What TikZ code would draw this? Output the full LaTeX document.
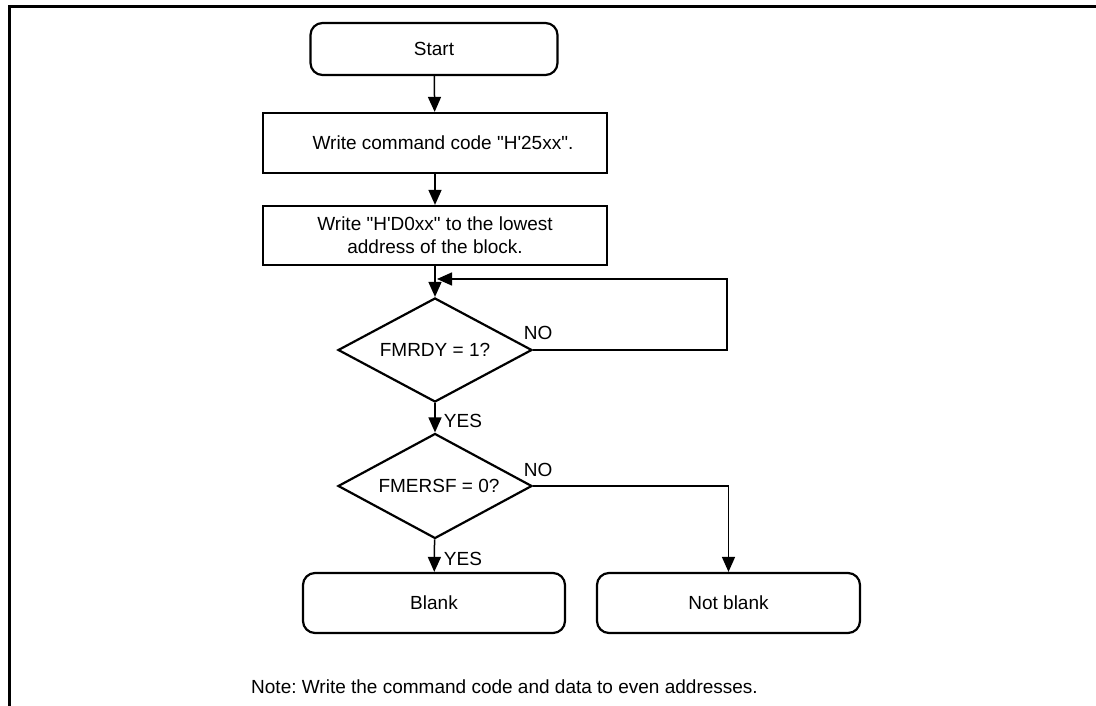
\documentclass[tikz,border=0pt]{standalone}
\usepackage{fontspec}
\setmainfont{Liberation Sans}[Ligatures=TeXOff]
\usetikzlibrary{shapes.geometric,arrows.meta,positioning}
\newcommand{\flowfont}{\fontsize{19}{23}\selectfont\frenchspacing}

\begin{document}
\begin{tikzpicture}[x=1pt,y=-1pt,
    box/.style={rectangle,draw,line width=2.2pt,minimum width=344pt,
                minimum height=60pt,align=center,font=\flowfont,inner sep=0pt},
    term/.style={box,rounded corners=12pt,minimum width=262pt},
    test/.style={diamond,draw,line width=2.2pt,aspect=1.88,minimum width=194pt,
                 minimum height=104pt,font=\flowfont,inner sep=0pt},
    arr/.style={-{Triangle[length=15pt,width=13pt]},line width=1.5pt},
    lbl/.style={font=\flowfont,inner sep=0pt},
  ]
  \useasboundingbox (0,0) rectangle (1096,706);
  \draw[line width=3pt] (1096,7) -- (9,7) -- (9,706);

  \node[term,minimum width=247pt,minimum height=52pt] (start) at (434,49) {Start};
  \node[box] (cmd) at (435,143) {\hspace*{16pt}Write command code "H'25xx".};
  \node[box,minimum height=59pt] (addr) at (435,235.5)
        {Write "H'D0xx" to the lowest\\address of the block.};
  \node[test] (rdy)  at (435,350) {FMRDY = 1?};
  \node[test,minimum height=105pt] (ersf) at (435,486) {\hspace*{8pt}FMERSF = 0?};
  \node[term] (blank) at (434,603) {Blank};
  \node[term,minimum width=263pt] (nblank) at (728.5,603) {Not blank};

  \coordinate (loopc) at (727,279);
  \coordinate (back)  at (437,279);

  \draw[arr] (start)--(cmd); \draw[arr] (cmd)--(addr);
  \draw[arr] (addr)--(rdy);  \draw[arr] (rdy)--(ersf);
  \draw[arr] (ersf)--(blank);
  \draw[arr] (rdy.east) -| (loopc) -- (back);
  \draw[arr] (ersf.east) -| (nblank);

  \node[lbl] at ([shift={(5,-17)}]rdy.east)   {NO};
  \node[lbl] at ([shift={(5,-16)}]ersf.east)  {NO};
  \node[lbl] at ([shift={(28,18)}]rdy.south)  {YES};
  \node[lbl] at ([shift={(28,19)}]ersf.south) {YES};

  \node[lbl,anchor=west] (note) at (251,687)
       {Note: Write the command code and data to even addresses.};
\end{tikzpicture}
\end{document}
